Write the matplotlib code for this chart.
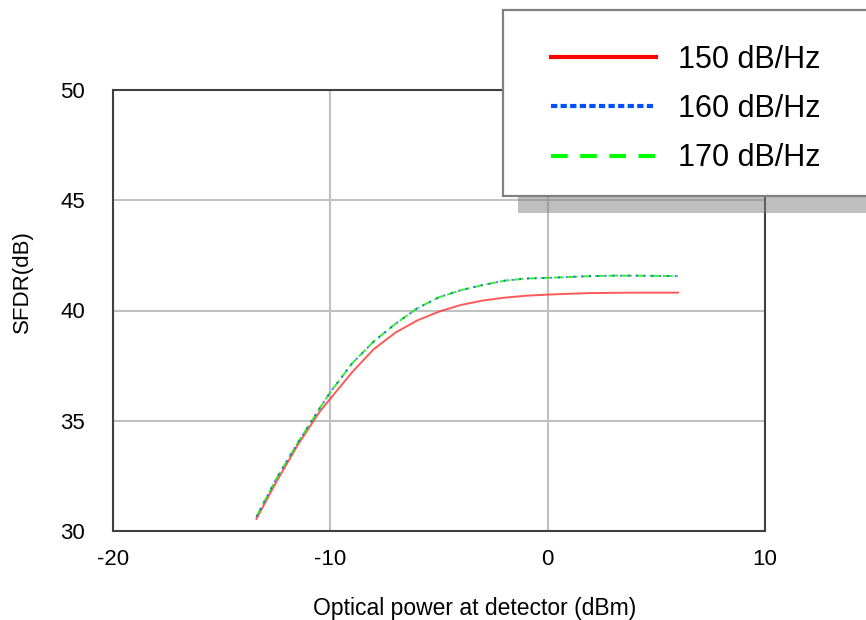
import matplotlib.pyplot as plt
from matplotlib.lines import Line2D
from matplotlib.patches import Rectangle

plt.rcParams['font.family'] = ['Liberation Sans', 'DejaVu Sans']
plt.rcParams['axes.unicode_minus'] = False

# Optical power at detector (dBm)
power = [-13.4, -12.5, -11.5, -10.5, -10, -9, -8, -7, -6, -5, -4,
         -3, -2, -1, 0, 1, 2, 3, 4, 5, 6]

# SFDR (dB) for each noise level
sfdr_150 = [30.55, 32.2, 33.9, 35.4, 36.0, 37.2, 38.25, 39.0, 39.55, 39.95, 40.25,
            40.45, 40.58, 40.67, 40.72, 40.76, 40.79, 40.8, 40.81, 40.81, 40.81]
sfdr_160 = [30.65, 32.35, 34.0, 35.55, 36.3, 37.6, 38.6, 39.4, 40.1, 40.6, 40.92,
            41.15, 41.35, 41.45, 41.48, 41.52, 41.56, 41.58, 41.58, 41.57, 41.56]
sfdr_170 = [30.65, 32.35, 34.0, 35.55, 36.3, 37.6, 38.6, 39.4, 40.1, 40.6, 40.92,
            41.15, 41.35, 41.45, 41.48, 41.52, 41.56, 41.58, 41.58, 41.57, 41.56]

labels = ['150 dB/Hz', '160 dB/Hz', '170 dB/Hz']
x_ticks = [-20, -10, 0, 10]
y_ticks = [30, 35, 40, 45, 50]

fig = plt.figure(figsize=(8.66, 6.2), dpi=100)
ax = fig.add_axes([113 / 866, 1 - 531 / 620, 652 / 866, 441 / 620])

# Curves
ax.plot(power, sfdr_150, color='#ff3030', lw=1.4, alpha=0.8)
ax.plot(power, sfdr_170, color='#00ee00', lw=1.4, dashes=(5, 2), alpha=0.8)
ax.plot(power, sfdr_160, color='#2050ff', lw=1.4, dashes=(1, 3), alpha=0.8)

ax.set_xlim(-20, 10)
ax.set_ylim(30, 50)
ax.set_xticks(x_ticks)
ax.set_yticks(y_ticks)
ax.grid(True, color='#c0c0c0', lw=1.5)
ax.set_axisbelow(True)
ax.tick_params(length=0, labelsize=16)
ax.tick_params(axis='x', pad=13)
ax.tick_params(axis='y', pad=20)
for s in ax.spines.values():
    s.set_color('#404040')
    s.set_linewidth(1.5)

ax.set_xlabel('Optical power at detector (dBm)', fontsize=16.5)
ax.set_ylabel('SFDR(dB)', fontsize=16)
ax.xaxis.set_label_coords(0.554, -0.15)
ax.yaxis.set_label_coords(-0.122, 0.565)

# Legend box with shadow
fig.patches.append(Rectangle((518 / 866, 1 - 213 / 620), 0.5, 186 / 620,
                             transform=fig.transFigure, facecolor='#808080',
                             alpha=0.5, edgecolor='none', zorder=2))
fig.patches.append(Rectangle((503 / 866, 1 - 196 / 620), 0.5, 186 / 620,
                             transform=fig.transFigure, facecolor='white',
                             edgecolor='#808080', lw=1.6, zorder=3))

handles = [
    Line2D([], [], color='#ff0000', lw=3),
    Line2D([], [], color='#0050ff', lw=3, dashes=(1.5, 0.8)),
    Line2D([], [], color='#00ff00', lw=3, dashes=(4, 3)),
]
fig.legend(handles, labels, loc='center left',
           bbox_to_anchor=(551 / 866, 1 - 109 / 620),
           bbox_transform=fig.transFigure, frameon=False, fontsize=22,
           handlelength=3.45, handletextpad=0.7, labelspacing=0.63,
           borderpad=0, borderaxespad=0)

plt.savefig('out.png')
